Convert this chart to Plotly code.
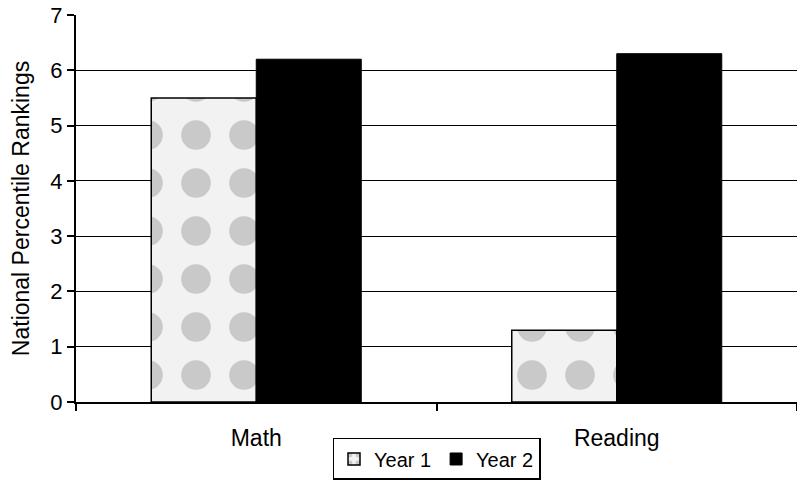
import plotly.graph_objects as go

categories = ["Math", "Reading"]
year1 = [5.5, 1.3]
year2 = [6.2, 6.3]
y_ticks = [0, 1, 2, 3, 4, 5, 6, 7]

fig = go.Figure()
fig.add_trace(go.Bar(
    x=categories, y=year1, name="Year 1",
    marker=dict(color="#f2f2f2", line=dict(color="black", width=1.5),
                pattern=dict(shape=".", fgcolor="#a0a0a0", bgcolor="#f2f2f2",
                             size=48, solidity=0.3, fillmode="overlay")),
))
fig.add_trace(go.Bar(
    x=categories, y=year2, name="Year 2",
    marker=dict(color="black", line=dict(color="black", width=1)),
))

fig.update_layout(
    width=797, height=480,
    margin=dict(l=76, r=0, t=15, b=78, autoexpand=False),
    paper_bgcolor="white", plot_bgcolor="white",
    barmode="group", bargap=0.4175, bargroupgap=0,
    font=dict(family="Liberation Sans, Arial", size=22, color="black"),
    showlegend=True,
    legend=dict(orientation="h", x=0.5, xanchor="center", y=-0.093, yanchor="top",
                bordercolor="black", borderwidth=1.5, bgcolor="white",
                font=dict(size=20), itemwidth=30, traceorder="normal",
                tracegroupgap=0),
)
fig.update_yaxes(
    range=[0, 7], tickvals=y_ticks, showgrid=True, gridcolor="black", gridwidth=1.2,
    showline=True, linecolor="black", linewidth=2, ticks="outside", ticklen=7,
    tickwidth=1.5, tickcolor="black", tickfont=dict(size=22), zeroline=False,
    automargin=False, ticklabeloverflow="allow",
    title=dict(text="National Percentile Rankings", font=dict(size=23), standoff=14),
)
fig.update_xaxes(
    showline=True, linecolor="black", linewidth=2, ticks="outside", ticklen=7,
    tickwidth=1.5, tickson="boundaries", tickcolor="black", tickfont=dict(size=23),
    range=[-0.5, 1.5], automargin=False, ticklabelstandoff=14,
    ticklabeloverflow="allow",
)

fig.write_html("out.html", config={"displayModeBar": False},
               post_script="document.body.style.margin='0';document.body.style.overflow='hidden';")
